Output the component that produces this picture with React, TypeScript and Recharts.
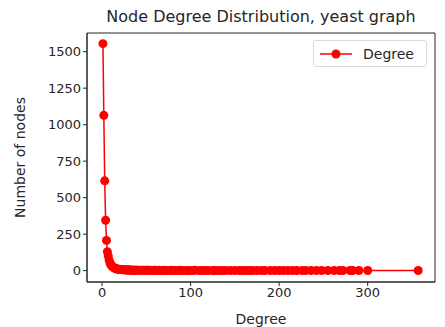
import { LineChart, Line, XAxis, YAxis, ReferenceArea } from 'recharts';

const degrees = [
  1, 2, 3, 4, 5, 6, 7, 8, 9, 10, 11, 12, 13, 14, 15, 16, 17, 18, 19, 20,
  21, 22, 23, 24, 25, 26, 27, 28, 29, 30, 31, 32, 33, 34, 35, 36, 37, 38, 39, 40,
  42, 44, 46, 48, 50, 52, 54, 56, 58, 60, 62, 64, 66, 68, 70,
  72, 75, 78, 80, 83, 86, 88, 91, 95, 98, 102, 105, 110, 113, 116, 120, 125, 128,
  132, 136, 140, 145, 150, 155, 158, 162, 166, 170, 175, 180, 184, 190, 195, 200,
  205, 210, 215, 220, 226, 230, 236, 242, 248, 255, 262, 268, 272, 280, 283, 290, 300, 357,
];

const nodeCounts = [
  1555, 1064, 615, 345, 207, 130, 100, 72, 52, 40, 32, 26, 22, 18, 15, 13, 11, 10, 9, 8,
  8, 7, 7, 6, 6, 5, 5, 5, 4, 4, 4, 4, 3, 3, 3, 3, 3, 3, 2, 2,
  3, 2, 2, 2, 2, 2, 2, 1, 2, 2, 1, 2, 1, 1, 2,
  1, 1, 2, 1, 1, 1, 2, 1, 1, 1, 1, 2, 1, 1, 1, 1, 1, 1,
  1, 1, 1, 1, 1, 1, 1, 1, 1, 1, 1, 1, 1, 1, 1, 1,
  1, 1, 1, 1, 1, 1, 1, 1, 1, 1, 1, 1, 1, 1, 1, 1, 1, 1,
];

const xTicks = [0, 100, 200, 300];
const yTicks = [0, 250, 500, 750, 1000, 1250, 1500];

const data = degrees.map((d, i) => ({ degree: d, count: nodeCounts[i] }));

const font = 'DejaVu Sans, sans-serif';
const tickStyle = { fill: '#262626', fontSize: 13, fontFamily: font };

// legend drawn as an overlay so it doesn't push the plot area down
const LegendBox = () => (
  <div
    style={{
      position: 'absolute',
      top: 40,
      left: 313,
      width: 114,
      height: 27,
      border: '1px solid #d9d9d9',
      borderRadius: 3,
      background: 'white',
      display: 'flex',
      alignItems: 'center',
      boxSizing: 'border-box',
      fontFamily: font,
      fontSize: 14,
      color: '#262626',
    }}
  >
    <svg width={42} height={20}>
      <line x1={6} y1={10} x2={38} y2={10} stroke="red" strokeWidth={1.5} />
      <circle cx={22} cy={10} r={4.5} fill="red" />
    </svg>
    <span style={{ marginLeft: 7 }}>Degree</span>
  </div>
);

const App = () => {
  return (
    <div style={{ position: 'absolute', left: 0, top: 0, width: 445, height: 327, background: 'white' }}>
      <div
        style={{
          position: 'absolute',
          top: 7,
          left: 87,
          width: 348,
          textAlign: 'center',
          fontFamily: font,
          fontSize: 16,
          color: '#262626',
        }}
      >
        Node Degree Distribution, yeast graph
      </div>
      <LineChart width={445} height={327} data={data} margin={{ top: 33, right: 10, bottom: 0, left: 0 }}>
        <XAxis
          dataKey="degree"
          type="number"
          domain={[-17, 376]}
          ticks={xTicks}
          allowDataOverflow
          stroke="#262626"
          tickSize={4}
          tick={tickStyle}
          height={45}
          label={{ value: 'Degree', position: 'insideBottom', offset: 3, style: { ...tickStyle, fontSize: 14 } }}
        />
        <YAxis
          type="number"
          domain={[-78, 1628]}
          ticks={yTicks}
          allowDataOverflow
          stroke="#262626"
          tickSize={4}
          tick={tickStyle}
          width={87}
          label={{
            value: 'Number of nodes',
            angle: -90,
            position: 'insideLeft',
            offset: 20,
            style: { ...tickStyle, fontSize: 14, textAnchor: 'middle' },
          }}
        />
        <ReferenceArea x1={-17} x2={376} y1={-78} y2={1628} fill="none" stroke="#262626" strokeWidth={1} />
        <Line
          dataKey="count"
          stroke="red"
          strokeWidth={1.5}
          dot={{ r: 4.5, fill: 'red', stroke: 'red', strokeWidth: 0 }}
          activeDot={false}
          isAnimationActive={false}
        />
      </LineChart>
      <LegendBox />
    </div>
  );
};

export default App;
